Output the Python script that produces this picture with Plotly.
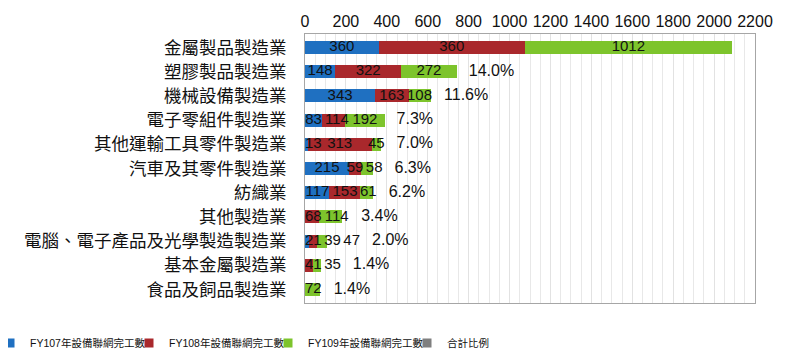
import plotly.graph_objects as go

# ---------------- data ----------------
categories = [
    "金屬製品製造業", "塑膠製品製造業", "機械設備製造業", "電子零組件製造業",
    "其他運輸工具零件製造業", "汽車及其零件製造業", "紡織業", "其他製造業",
    "電腦、電子產品及光學製造製造業", "基本金屬製造業", "食品及飼品製造業",
]
fy107 = [360, 148, 343, 83, 13, 215, 117, 0, 21, 0, 0]
fy108 = [715, 322, 163, 114, 313, 59, 153, 68, 39, 41, 0]
fy109 = [1012, 272, 108, 192, 45, 58, 61, 114, 47, 35, 72]
fy107_labels = ["360", "148", "343", "83", "13", "215", "117", "", "21", "", ""]
fy108_labels = ["360", "322", "163", "114", "313", "59", "153", "68", "39", "41", ""]
fy109_labels = ["1012", "272", "108", "192", "45", "58", "61", "114", "47", "35", "72"]
share_labels = ["", "14.0%", "11.6%", "7.3%", "7.0%", "6.3%", "6.2%", "3.4%", "2.0%", "1.4%", "1.4%"]
series_names = ["FY107年設備聯網完工數", "FY108年設備聯網完工數", "FY109年設備聯網完工數", "合計比例"]
x_ticks = [0, 200, 400, 600, 800, 1000, 1200, 1400, 1600, 1800, 2000, 2200]

colors = ["#1f70c1", "#a9282c", "#7dc42c", "#7f7f7f"]

# ---------------- layout constants ----------------
PAGE_OFFSET = 8          # default body margin of the html page
W, H = 800, 361
ML, MR, MT, MB = 305 - PAGE_OFFSET, 53, 34 - PAGE_OFFSET, 66
X_MAX = 2200
PW = W - ML - MR
k = PW / X_MAX  # px per unit
FONT = "Liberation Sans, Arial, Noto Sans CJK TC, sans-serif"
LABEL_SIZE = 15
DIGIT = 0.556 * LABEL_SIZE
GAP = 2.5
PCT_GAP = 12
LEGEND_TEXT_X = [31, 170, 309, 448]   # on-screen x where each legend text starts
LEGEND_Y = 343                       # on-screen y of legend row centre
LEGEND_TEXT_OFFSET = 41              # legend item origin -> text start

fig = go.Figure()
series_vals = [fy107, fy108, fy109]
series_lbls = [fy107_labels, fy108_labels, fy109_labels]
for j, (name, vals, col) in enumerate(zip(series_names[:3], series_vals, colors[:3])):
    fig.add_trace(go.Bar(
        y=categories, x=vals, name=name, orientation="h",
        marker=dict(color=col, line=dict(width=0)),
        hoverinfo="x+y+name", showlegend=False, legendgroup=f"g{j}",
    ))

# value labels: centred on segments, pushed right when they would collide
lx, ly, lt = [], [], []
px_, py_, pt_ = [], [], []
for i, cat in enumerate(categories):
    cum = 0
    prev_right = -1e9
    for vals, lbls in zip(series_vals, series_lbls):
        v = vals[i]
        t = lbls[i]
        if v > 0 and t:
            w = DIGIT * len(t)
            c = (cum + v / 2) * k
            left = max(c - w / 2, 0, prev_right + GAP)
            lx.append((left + w / 2) / k)
            ly.append(cat)
            lt.append(t)
            prev_right = left + w
        cum += v
    if share_labels[i]:
        start = max(cum * k, prev_right) + PCT_GAP
        px_.append(start / k)
        py_.append(cat)
        pt_.append(share_labels[i])

fig.add_trace(go.Scatter(
    x=lx, y=ly, text=lt, mode="text", textposition="middle center",
    textfont=dict(size=LABEL_SIZE, color="#111111", family=FONT),
    showlegend=False, hoverinfo="skip", cliponaxis=False,
))
fig.add_trace(go.Scatter(
    x=px_, y=py_, text=pt_, mode="text", textposition="middle right",
    textfont=dict(size=LABEL_SIZE + 1, color="#111111", family=FONT),
    showlegend=False, hoverinfo="skip", cliponaxis=False,
))

# legend entries (one small legend per series so they can sit like the original)
legend_ids = ["legend", "legend2", "legend3", "legend4"]
legend_layout = {}
for j, (name, col, lid, tx) in enumerate(zip(series_names, colors, legend_ids, LEGEND_TEXT_X)):
    fig.add_trace(go.Scatter(
        x=[None], y=[None], mode="markers", name=name,
        marker=dict(symbol="square", size=9, color=col),
        legend=lid, legendgroup=f"g{j}", showlegend=True, hoverinfo="skip",
    ))
    origin = tx - PAGE_OFFSET - LEGEND_TEXT_OFFSET   # in figure px
    legend_layout[lid] = dict(
        orientation="h", xref="paper", yref="container",
        x=(origin - ML) / PW, y=1 - (LEGEND_Y - PAGE_OFFSET) / H,
        xanchor="left", yanchor="middle",
        font=dict(size=10.5, family=FONT, color="#111111"),
        bgcolor="rgba(0,0,0,0)", borderwidth=0,
    )

fig.update_layout(
    width=W, height=H,
    margin=dict(l=ML, r=MR, t=MT, b=MB, pad=0, autoexpand=False),
    barmode="stack", bargap=0.46,
    paper_bgcolor="white", plot_bgcolor="white",
    font=dict(family=FONT, color="#111111"),
    xaxis=dict(
        side="top", range=[0, X_MAX], tickvals=x_ticks, automargin=False,
        tickfont=dict(size=16), showgrid=True, gridcolor="#e2e2e2", gridwidth=1,
        minor=dict(dtick=50, showgrid=True, gridcolor="#e8e8e8", gridwidth=1),
        showline=True, mirror=True, linecolor="#a6a6a6", linewidth=1,
        zeroline=False, ticks="", fixedrange=True,
    ),
    yaxis=dict(
        autorange="reversed", tickfont=dict(size=17.5, family="Noto Sans CJK TC"),
        automargin=False,
        showgrid=False, showline=True, mirror=True, linecolor="#a6a6a6", linewidth=1,
        ticks="", ticklabelstandoff=14, fixedrange=True,
    ),
    showlegend=True,
    **legend_layout,
)

fig.write_html("out.html")
